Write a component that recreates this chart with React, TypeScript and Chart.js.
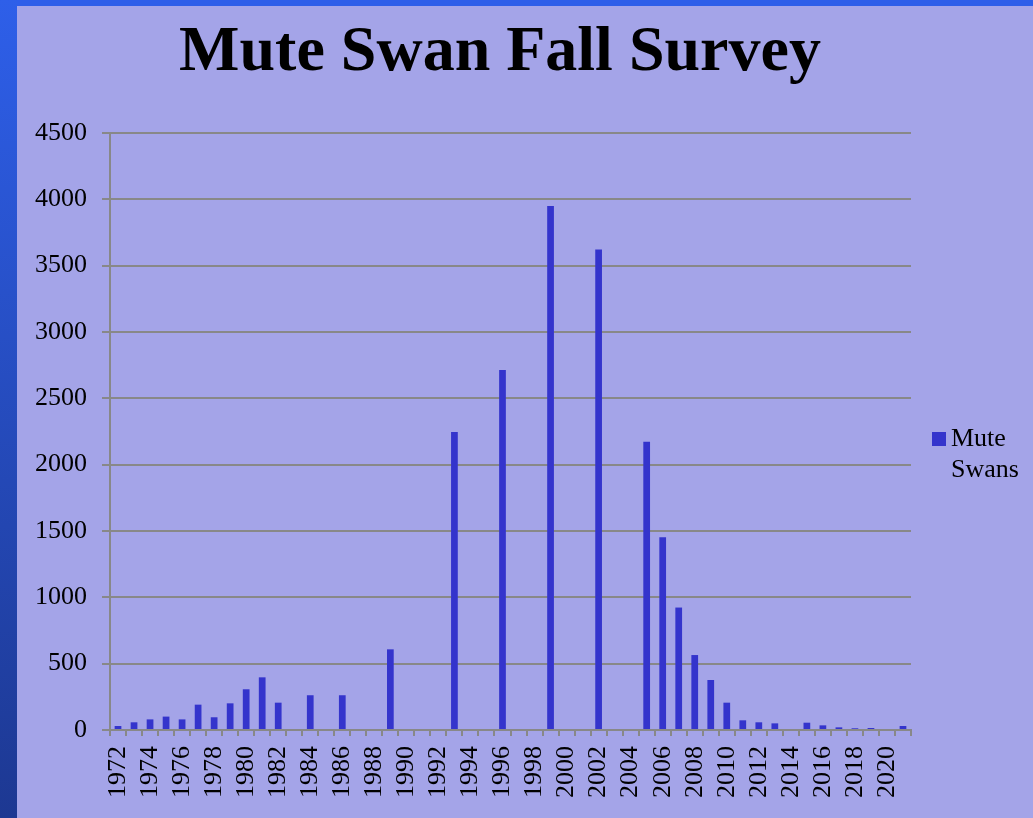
import React, { useEffect, useRef } from 'react';
import { Chart, registerables } from 'chart.js';

Chart.register(...registerables);

const years: string[] = [
  '1972', '1973', '1974', '1975', '1976', '1977', '1978', '1979', '1980', '1981',
  '1982', '1983', '1984', '1985', '1986', '1987', '1988', '1989', '1990', '1991',
  '1992', '1993', '1994', '1995', '1996', '1997', '1998', '1999', '2000', '2001',
  '2002', '2003', '2004', '2005', '2006', '2007', '2008', '2009', '2010', '2011',
  '2012', '2013', '2014', '2015', '2016', '2017', '2018', '2019', '2020', '2021',
];

const muteSwans: (number | null)[] = [
  30, 58, 80, 101, 80, 191, 96, 201, 307, 397,
  206, null, 262, null, 262, null, null, 608, null, null,
  null, 2246, null, null, 2713, null, null, 3950, null, null,
  3622, null, null, 2172, 1452, 923, 565, 377, 206, 73,
  58, 50, null, 55, 35, 20, 13, 15, null, 30,
];

const seriesLabel = ['Mute', 'Swans'];
const chartTitle = 'Mute Swan Fall Survey';
const yMax = 4500;
const yStep = 500;

const BAR = '#3434cc';
const GRID = '#888888';
const FONT = '"Liberation Serif", "Times New Roman", serif';

export default function App() {
  const ref = useRef<HTMLCanvasElement>(null);

  useEffect(() => {
    const overlay = {
      id: 'overlay',
      afterDraw(chart: any) {
        const { ctx, chartArea } = chart;
        ctx.save();
        ctx.fillStyle = '#000';
        ctx.font = `bold 64px ${FONT}`;
        ctx.textAlign = 'center';
        ctx.textBaseline = 'alphabetic';
        ctx.fillText(chartTitle, 500, 70);

        const lx = chartArea.right + 21;
        ctx.fillStyle = BAR;
        ctx.fillRect(lx, 432, 14, 14);
        ctx.fillStyle = '#000';
        ctx.font = `26px ${FONT}`;
        ctx.textAlign = 'left';
        ctx.fillText(seriesLabel[0], lx + 19, 446);
        ctx.fillText(seriesLabel[1], lx + 19, 477);
        ctx.restore();
      },
    };

    const chart = new Chart(ref.current!, {
      type: 'bar',
      data: {
        labels: years,
        datasets: [
          {
            label: seriesLabel.join(' '),
            data: muteSwans,
            backgroundColor: BAR,
            borderWidth: 0,
            barPercentage: 0.42,
            categoryPercentage: 1,
          },
        ],
      },
      options: {
        responsive: false,
        animation: false,
        layout: { padding: { top: 133, right: 122, left: 0, bottom: 0 } },
        plugins: {
          legend: { display: false },
          title: { display: false },
          tooltip: { enabled: false },
        },
        scales: {
          x: {
            grid: {
              display: true,
              drawOnChartArea: false,
              drawTicks: true,
              tickLength: 6,
              color: GRID,
              lineWidth: 2,
              offset: true,
            },
            border: { color: GRID, width: 2 },
            ticks: {
              autoSkip: false,
              maxRotation: 90,
              minRotation: 90,
              padding: 10,
              color: '#000',
              font: { family: FONT, size: 26 },
              callback: (_v: any, i: number) => (i % 2 === 0 ? years[i] : ''),
            },
            afterFit: (s: any) => {
              s.height = 88;
            },
          },
          y: {
            min: 0,
            max: yMax,
            ticks: {
              stepSize: yStep,
              padding: 15,
              color: '#000',
              font: { family: FONT, size: 26 },
              callback: (v: any) => String(v),
            },
            grid: { color: GRID, lineWidth: 2, tickLength: 8 },
            border: { color: GRID, width: 2 },
            afterFit: (s: any) => {
              s.width = 110;
            },
          },
        },
      },
      plugins: [overlay],
    } as any);

    return () => chart.destroy();
  }, []);

  return (
    <div
      style={{
        position: 'relative',
        width: 1033,
        height: 818,
        background: '#a4a4e8',
        overflow: 'hidden',
      }}
    >
      <style>{'body{margin:0}'}</style>
      <div
        style={{
          position: 'absolute',
          left: 0,
          top: 0,
          width: 1033,
          height: 6,
          background: '#2e5ee9',
        }}
      />
      <div
        style={{
          position: 'absolute',
          left: 0,
          top: 0,
          width: 17,
          height: 818,
          background: 'linear-gradient(to bottom, #2e5fe9, #1d3892)',
        }}
      />
      <canvas
        ref={ref}
        width={1033}
        height={818}
        style={{ position: 'absolute', left: 0, top: 0 }}
      />
    </div>
  );
}
